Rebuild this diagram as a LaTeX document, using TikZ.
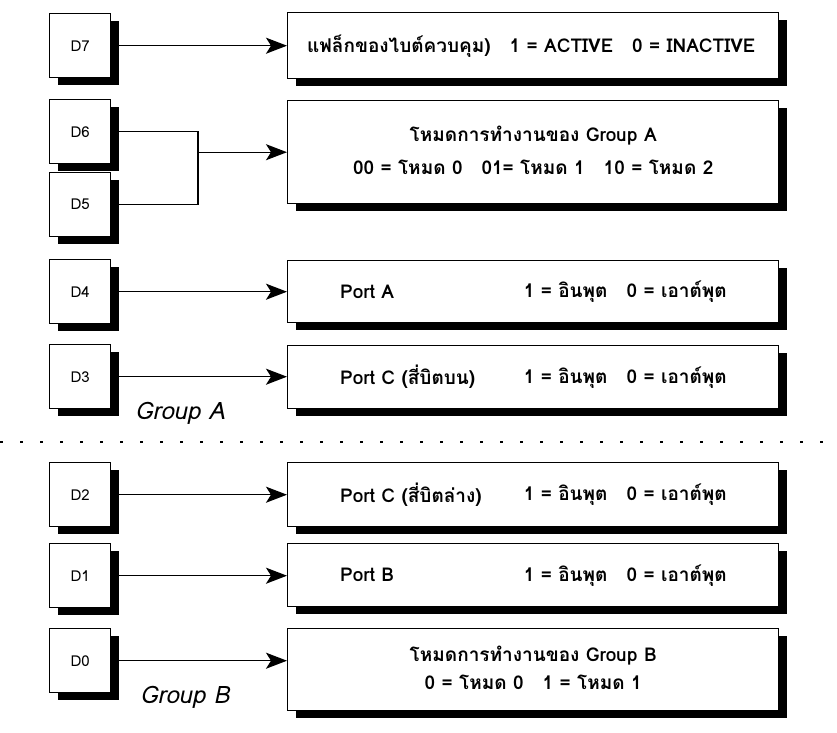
\documentclass[tikz,border=0pt]{standalone}
\usepackage{fontspec}
\usetikzlibrary{arrows.meta,shadows}
\newfontfamily\thaifont[Script=Thai]{Loma}
\tikzset{
  x=1pt, y=-1pt,
  boxshadow/.style={drop shadow={shadow xshift=8pt, shadow yshift=-7pt, fill=black, opacity=1}},
  bitbox/.style={draw, line width=1.4pt, fill=white, boxshadow, anchor=north west,
    minimum width=61pt, minimum height=64pt, inner sep=0pt,
    font=\thaifont\fontsize{15}{18}\selectfont},
  infobox/.style={draw, line width=1.4pt, fill=white, boxshadow, anchor=north west,
    minimum width=491pt, inner sep=0pt},
  txt/.style={inner sep=0pt, font=\thaifont\bfseries\fontsize{19}{23}\selectfont},
  grp/.style={inner sep=0pt, font=\thaifont\itshape\fontsize{24}{28}\selectfont},
  wire/.style={line width=1.4pt},
  arr/.style={wire, -{Stealth[length=21pt, width=16pt, inset=5pt]}}
}
\begin{document}
\begin{tikzpicture}
\useasboundingbox (0,0) rectangle (837,732);

% data bits
\node[bitbox] (D7) at (49,13)  {D7};
\node[bitbox] (D6) at (49,99)  {D6};
\node[bitbox] (D5) at (49,172) {D5};
\node[bitbox] (D4) at (49,259) {D4};
\node[bitbox] (D3) at (49,344) {D3};
\node[bitbox] (D2) at (49,462) {D2};
\node[bitbox] (D1) at (49,543) {D1};
\node[bitbox] (D0) at (49,628) {D0};

% meaning of each bit
\node[infobox, minimum height=66pt]  (R7) at (287,12)  {};
\node[infobox, minimum height=103pt] (RA) at (287,100) {};
\node[infobox, minimum height=62pt]  (R4) at (287,260) {};
\node[infobox, minimum height=63pt]  (R3) at (287,345) {};
\node[infobox, minimum height=64pt]  (R2) at (287,462) {};
\node[infobox, minimum height=63pt]  (R1) at (287,543) {};
\node[infobox, minimum height=82pt]  (R0) at (287,628) {};

% texts inside the boxes
\node[txt] (t7) at ([xshift=-2]R7.center) {แฟล็กของไบต์ควบคุม)\quad 1 = ACTIVE\quad 0 = INACTIVE};

\node[txt] (tA1) at ([yshift=17]RA.center) {โหมดการทำงานของ Group A};
\node[txt] (tA2) at ([yshift=-15]RA.center) {00 = โหมด 0\quad 01= โหมด 1\quad 10 = โหมด 2};

\node[txt, anchor=west] (t4a) at (R4.center -| 340,0) {Port A};
\node[txt, anchor=east] (t4b) at (R4.center -| 727,0) {1 = อินพุต\quad 0 = เอาต์พุต};

\node[txt, anchor=west] (t3a) at (R3.center -| 340,0) {Port C (สี่บิตบน)};
\node[txt, anchor=east] (t3b) at (R3.center -| 727,0) {1 = อินพุต\quad 0 = เอาต์พุต};

\node[txt, anchor=west] (t2a) at (R2.center -| 340,0) {Port C (สี่บิตล่าง)};
\node[txt, anchor=east] (t2b) at (R2.center -| 727,0) {1 = อินพุต\quad 0 = เอาต์พุต};

\node[txt, anchor=west] (t1a) at (R1.center -| 340,0) {Port B};
\node[txt, anchor=east] (t1b) at (R1.center -| 727,0) {1 = อินพุต\quad 0 = เอาต์พุต};

\node[txt] (tB1) at ([yshift=14]R0.center) {โหมดการทำงานของ Group B};
\node[txt] (tB2) at ([yshift=-13]R0.center) {0 = โหมด 0\quad 1 = โหมด 1};

% connectors
\draw[arr] (D7.east) -- (D7.east -| R7.west);
\path (RA.west) ++(-89,0) coordinate (j);
\draw[wire] (D6.east) -| (j) |- (D5.east);
\draw[arr] (j) -- (RA.west);
\draw[arr] (D4.east) -- (D4.east -| R4.west);
\draw[arr] (D3.east) -- (D3.east -| R3.west);
\draw[arr] (D2.east) -- (D2.east -| R2.west);
\draw[arr] (D1.east) -- (D1.east -| R1.west);
\draw[arr] (D0.east) -- (D0.east -| R0.west);

% group divider and labels
\coordinate (sepL) at (0,442);
\coordinate (sepR) at (837,442);
\draw[line width=2.5pt, dash pattern=on 3pt off 17pt] (sepL) -- (sepR);
\node[grp, anchor=west] (gA) at (135,413) {Group A};
\node[grp, anchor=west] (gB) at (140,697) {Group B};
\end{tikzpicture}
\end{document}
